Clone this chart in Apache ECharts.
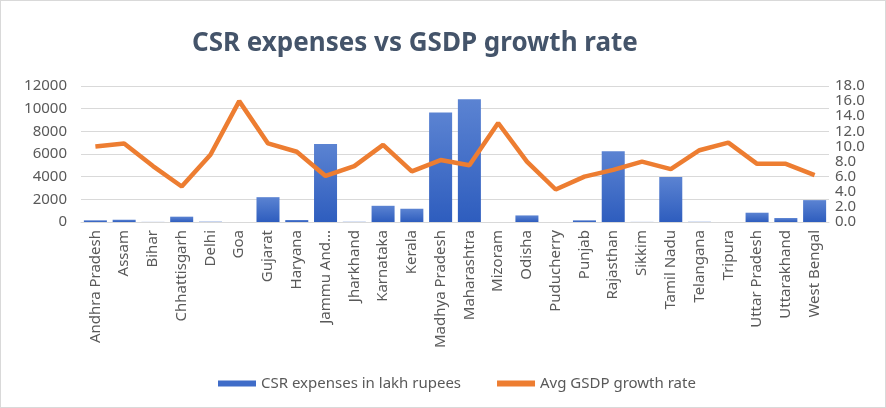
<!DOCTYPE html>
<html>
<head>
<meta charset="utf-8">
<script src="https://cdn.jsdelivr.net/npm/echarts@6/dist/echarts.min.js"></script>
<style>
html,body{margin:0;padding:0;background:#fff;}
#c{width:884px;height:406px;border:1px solid #d9d9d9;}
</style>
</head>
<body>
<div id="c"></div>
<script>
const states = ["Andhra Pradesh","Assam","Bihar","Chhattisgarh","Delhi","Goa","Gujarat","Haryana","Jammu And Kashmir","Jharkhand","Karnataka","Kerala","Madhya Pradesh","Maharashtra","Mizoram","Odisha","Puducherry","Punjab","Rajasthan","Sikkim","Tamil Nadu","Telangana","Tripura","Uttar Pradesh","Uttarakhand","West Bengal"];
const csrExpenses = [150,200,10,470,30,0,2190,175,6890,20,1430,1170,9660,10830,0,580,0,150,6250,10,3970,20,0,820,350,1930];
const gsdpGrowth = [10.0,10.4,7.4,4.7,8.9,16.0,10.4,9.3,6.1,7.4,10.2,6.7,8.2,7.5,13.1,8.0,4.3,6.0,6.9,8.0,7.0,9.5,10.5,7.7,7.7,6.2];
const leftTicks = {min:0,max:12000,interval:2000};
const rightTicks = {min:0,max:18,interval:2};

const chart = echarts.init(document.getElementById('c'));
const font = 'Noto Sans';
chart.setOption({
  animation:false,
  title:{text:'CSR expenses vs GSDP growth rate',left:186,top:25,
    textStyle:{fontFamily:font,fontSize:26,fontWeight:'bold',color:'#44546A'}},
  grid:{left:80,right:56,top:85,bottom:185},
  legend:{bottom:11,left:212,itemGap:36,
    textStyle:{fontFamily:font,fontSize:15,color:'#595959'},
    data:[{name:'CSR expenses in lakh rupees',icon:'rect',itemStyle:{color:'#3F6CC8'}},
          {name:'Avg GSDP growth rate',icon:'rect',itemStyle:{color:'#ED7D31'}}],
    itemWidth:38,itemHeight:6},
  xAxis:{type:'category',data:states,
    axisLine:{lineStyle:{color:'#d9d9d9'}},axisTick:{show:false},
    axisLabel:{rotate:90,interval:0,fontFamily:font,fontSize:15,color:'#595959',margin:8,
      formatter:v=>v.length>15?v.slice(0,9)+'...':v}},
  yAxis:[
    {type:'value',min:leftTicks.min,max:leftTicks.max,interval:leftTicks.interval,
      axisLabel:{fontFamily:font,fontSize:15,color:'#595959',margin:14,formatter:v=>String(v)},
      splitLine:{lineStyle:{color:'#d9d9d9'}},axisLine:{show:false},axisTick:{show:false}},
    {type:'value',min:rightTicks.min,max:rightTicks.max,interval:rightTicks.interval,
      axisLabel:{fontFamily:font,fontSize:15,color:'#595959',margin:6,formatter:v=>v.toFixed(1)},
      splitLine:{show:false},axisLine:{show:false},axisTick:{show:false}}
  ],
  series:[
    {name:'CSR expenses in lakh rupees',type:'bar',data:csrExpenses,barCategoryGap:'20%',
      itemStyle:{color:new echarts.graphic.LinearGradient(0,0,0,1,[{offset:0,color:'#5B83D2'},{offset:1,color:'#2E5DBE'}])}},
    {name:'Avg GSDP growth rate',type:'line',yAxisIndex:1,data:gsdpGrowth,
      symbol:'none',lineStyle:{color:'#ED7D31',width:4.5},itemStyle:{color:'#ED7D31'}}
  ]
});
</script>
</body>
</html>
